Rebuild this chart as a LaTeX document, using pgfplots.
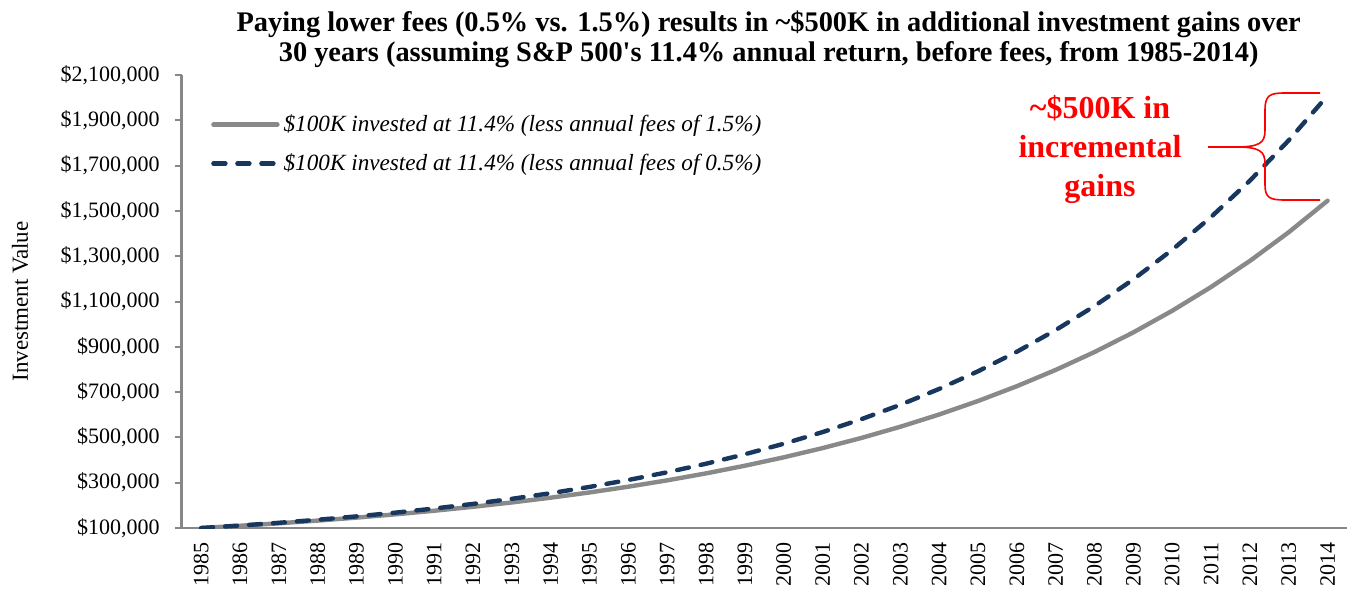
\documentclass[border=0pt]{standalone}
\usepackage{pgfplots}
\pgfplotsset{compat=1.18}
\usepackage{fontspec}
\setmainfont{Liberation Serif}
\definecolor{lowgray}{HTML}{898989}
\definecolor{navy}{HTML}{17375E}
\definecolor{axgray}{HTML}{878787}
\pgfplotstableread{
x y
0 100000
1 109900
2 120780
3 132737
4 145878
5 160320
6 176192
7 193635
8 212805
9 233873
10 257026
11 282472
12 310436
13 341170
14 374945
15 412065
16 452859
17 497692
18 546964
19 601113
20 660624
21 726025
22 797902
23 876894
24 963707
25 1059113
26 1163966
27 1279198
28 1405839
29 1545017
}\lowfee
\pgfplotstableread{
x y
0 100000
1 110900
2 122988
3 136394
4 151261
5 167748
6 186033
7 206310
8 228798
9 253737
10 281394
11 312066
12 346082
13 383804
14 425639
15 472034
16 523486
17 580545
18 643825
19 714002
20 791828
21 878137
22 973854
23 1080004
24 1197725
25 1328277
26 1473059
27 1633622
28 1811687
29 2009161
}\highfee
\begin{document}
\begin{tikzpicture}
\begin{axis}[
  at={(0,0)}, anchor=south west,
  scale only axis, width=582.65pt, height=226.5pt,
  xmin=-0.5, xmax=29.5, ymin=100000, ymax=2100000,
  axis x line*=bottom, axis y line*=left,
  axis line style={axgray, line width=1.2pt},
  tick align=outside,
  major tick length=3.5pt, minor tick length=4pt,
  xtick={0,...,29},
  xticklabels={1985,1986,1987,1988,1989,1990,1991,1992,1993,1994,1995,1996,1997,1998,1999,2000,2001,2002,2003,2004,2005,2006,2007,2008,2009,2010,2011,2012,2013,2014},
  xtick style={draw=none},
  minor xtick={-0.5,0.5,...,28.5},
  minor x tick style={axgray, line width=1pt},
  ytick={100000,300000,...,2100000},
  ytick style={axgray, line width=1pt},
  scaled y ticks=false,
  yticklabel={\$\pgfmathprintnumber[fixed,precision=0,1000 sep={,},assume math mode=true]{\tick}},
  yticklabel style={font=\fontsize{11}{13}\selectfont, xshift=-4pt},
  xticklabel style={font=\fontsize{11}{13}\selectfont, rotate=90, anchor=east, xshift=0pt},
  legend style={draw=none, fill=none, at={(0.025,0.922)}, anchor=north west,
    font=\itshape\fontsize{11.6}{14}\selectfont, row sep=5.5pt, inner sep=0pt},
  legend cell align=left,
  legend image code/.code={\draw[#1] (0pt,0pt) -- (32pt,0pt);},
]
\addplot[lowgray, line width=2.2pt, line cap=round] table[x=x,y=y]{\lowfee};
\addlegendentry{\$100K invested at 11.4\% (less annual fees of 1.5\%)}
\addplot[navy, line width=2.2pt, line cap=round, dash pattern=on 6pt off 6pt] table[x=x,y=y]{\highfee};
\addlegendentry{\$100K invested at 11.4\% (less annual fees of 0.5\%)}
\end{axis}
% y label
\node[rotate=90, font=\fontsize{11.5}{14}\selectfont] at (-80.85pt,113.25pt) {Investment Value};
% title
\node[align=center, font=\bfseries\fontsize{14.2}{15}\selectfont] at (293.5pt,244.5pt)
  {Paying lower fees (0.5\% vs. 1.5\%) results in \textasciitilde\$500K in additional investment gains over\\30 years (assuming S\&P 500\textquotesingle s 11.4\% annual return, before fees, from 1985-2014)};
% annotation
\node[align=center, text=red, font=\bfseries\fontsize{16}{19.5}\selectfont] at (459.15pt,189.5pt)
  {\textasciitilde\$500K in\\incremental\\gains};
\draw[red, line width=0.8pt]
  (513.15pt,190.5pt) -- (526.65pt,190.5pt)
  .. controls (539.15pt,190.5pt) and (541.65pt,192.5pt) .. (541.65pt,199pt)
  -- (541.65pt,209pt)
  .. controls (541.65pt,216.5pt) and (544.15pt,217.5pt) .. (551.65pt,217.5pt)
  -- (569.15pt,217.5pt);
\draw[red, line width=0.8pt]
  (526.65pt,190.5pt)
  .. controls (539.15pt,190.5pt) and (541.65pt,188.5pt) .. (541.65pt,182pt)
  -- (541.65pt,171.5pt)
  .. controls (541.65pt,165pt) and (544.15pt,164pt) .. (551.65pt,164pt)
  -- (569.15pt,164pt);
\pgfresetboundingbox
\path[use as bounding box] (-90.85pt,-30.5pt) rectangle (582.65pt,264pt);
\end{tikzpicture}
\end{document}
